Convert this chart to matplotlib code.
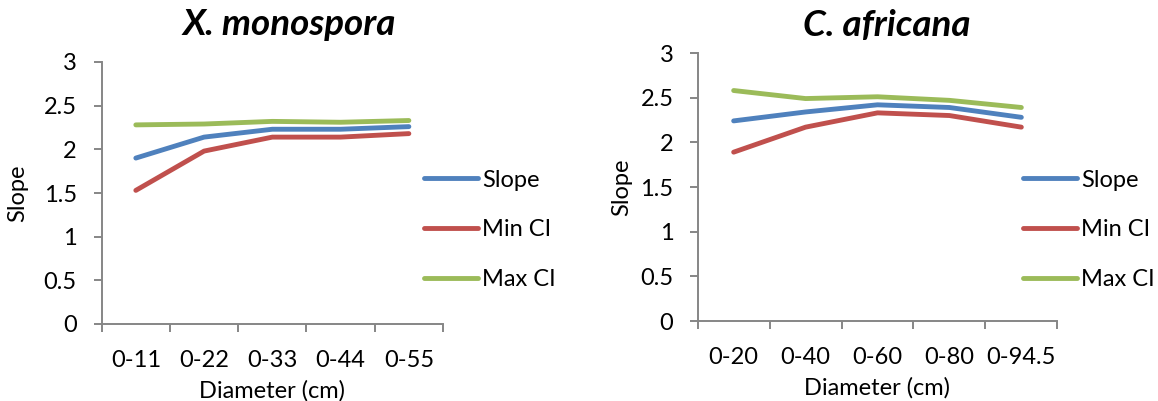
import matplotlib
matplotlib.use("Agg")
import matplotlib.pyplot as plt

plt.rcParams['font.family'] = ['Lato', 'DejaVu Sans']

# Data
cats_x = ["0-11", "0-22", "0-33", "0-44", "0-55"]
x_slope = [1.90, 2.14, 2.23, 2.23, 2.26]
x_min = [1.53, 1.98, 2.14, 2.14, 2.18]
x_max = [2.28, 2.29, 2.32, 2.31, 2.33]

cats_c = ["0-20", "0-40", "0-60", "0-80", "0-94.5"]
c_slope = [2.24, 2.34, 2.42, 2.39, 2.28]
c_min = [1.89, 2.17, 2.33, 2.30, 2.17]
c_max = [2.58, 2.49, 2.51, 2.47, 2.39]

series_names = ["Slope", "Min CI", "Max CI"]
colors = ["#4F81BD", "#C0504D", "#9BBB59"]
yticks = [0, 0.5, 1, 1.5, 2, 2.5, 3]
ytick_labels = ["0", "0.5", "1", "1.5", "2", "2.5", "3"]

W, H = 1158, 401
fig = plt.figure(figsize=(W / 100, H / 100), dpi=100)

def fx(px):
    return px / W

def fy(py):
    return 1 - py / H

FS = 17
AXC = '#868686'

def make_panel(box, cats, series, title, title_xy, ylabel_x, legend_xy, ypad):
    x0, y0, x1, y1 = box
    ax = fig.add_axes([fx(x0), fy(y1), fx(x1) - fx(x0), fy(y0) - fy(y1)])
    xs = list(range(len(cats)))
    for vals, name, col in zip(series, series_names, colors):
        ax.plot(xs, vals, color=col, lw=3.5, label=name, solid_capstyle='round')
    ax.set_xlim(-0.5, len(cats) - 0.5)
    ax.set_ylim(0, 3)
    ax.set_yticks(yticks)
    ax.set_yticklabels(ytick_labels, fontsize=FS)
    ax.set_xticks([i - 0.5 for i in range(len(cats) + 1)])
    ax.set_xticklabels([])
    ax.set_xticks(xs, minor=True)
    ax.set_xticklabels(cats, minor=True, fontsize=FS)
    ax.tick_params(axis='x', which='major', length=6, width=1.4, color=AXC, direction='out')
    ax.tick_params(axis='x', which='minor', length=0, pad=19)
    ax.tick_params(axis='y', length=6, width=1.4, color=AXC, pad=ypad)
    for s in ['top', 'right']:
        ax.spines[s].set_visible(False)
    for s in ['left', 'bottom']:
        ax.spines[s].set_color(AXC)
        ax.spines[s].set_linewidth(1.4)
    ax.set_xlabel("Diameter (cm)", fontsize=FS, labelpad=6)
    fig.text(fx(ylabel_x), ax.get_position().y0 + ax.get_position().height / 2,
             "Slope", rotation=90, fontsize=FS, ha='center', va='center')
    fig.text(fx(title_xy[0]), fy(title_xy[1]), title, fontsize=26.5,
             fontweight='bold', fontstyle='italic', ha='center', va='baseline')
    leg = ax.legend(loc='center left', bbox_to_anchor=(fx(legend_xy[0]), fy(legend_xy[1])),
                    bbox_transform=fig.transFigure, frameon=False, fontsize=17,
                    handlelength=2.3, handletextpad=0.17, labelspacing=1.22,
                    borderpad=0, borderaxespad=0)
    for line in leg.get_lines():
        line.set_linewidth(3.5)
    return ax

make_panel((101.7, 62, 443, 324), cats_x, [x_slope, x_min, x_max],
           "X. monospora", (289, 35), 18, (424, 230), 12)
make_panel((697.7, 53, 1057.3, 321), cats_c, [c_slope, c_min, c_max],
           "C. africana", (887, 35.5), 622, (1022.7, 230), 11.5)

fig.savefig("out.png", dpi=100)
